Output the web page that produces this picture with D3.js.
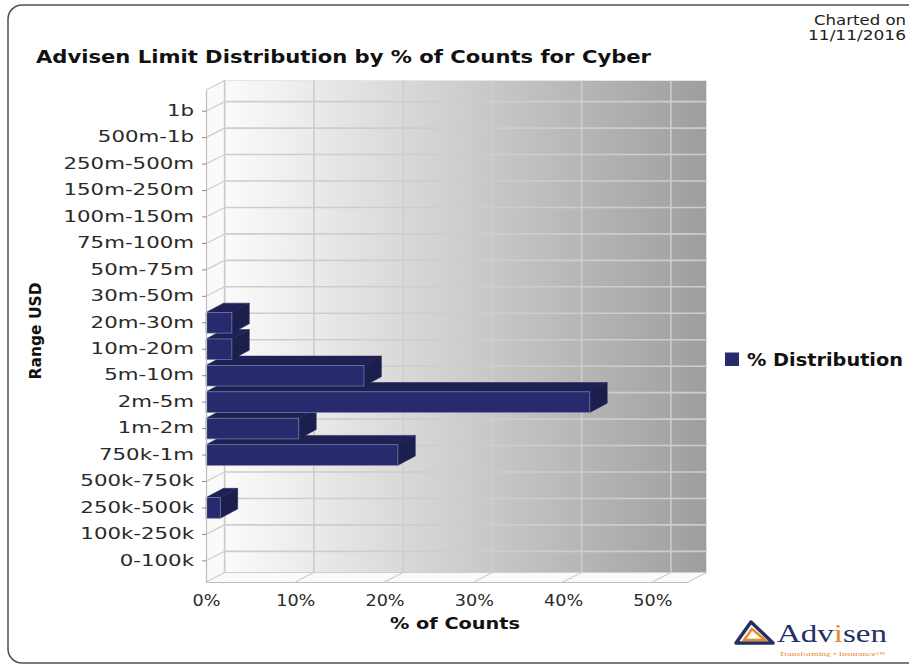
<!DOCTYPE html>
<html>
<head>
<meta charset="utf-8">
<script src="https://cdn.jsdelivr.net/npm/d3@7"></script>
<style>
  html, body { margin: 0; padding: 0; background: #ffffff; }
  svg { display: block; font-family: "DejaVu Sans", sans-serif; }
</style>
</head>
<body>
<div id="chart"></div>
<script>
// ---------------- DATA ----------------
const categories = ["0-100k","100k-250k","250k-500k","500k-750k","750k-1m","1m-2m","2m-5m","5m-10m","10m-20m","20m-30m","30m-50m","50m-75m","75m-100m","100m-150m","150m-250m","250m-500m","500m-1b","1b"];
const distribution = [0, 0, 1.6, 0, 21.5, 10.4, 43.0, 17.7, 2.9, 2.9, 0, 0, 0, 0, 0, 0, 0, 0];
const xTickValues = [0, 10, 20, 30, 40, 50];
const xDomainMax = 54;
const titleText = "Advisen Limit Distribution by % of Counts for Cyber";
const seriesName = "% Distribution";
const xTitle = "% of Counts";
const yTitle = "Range USD";
const chartedLines = ["Charted on", "11/11/2016"];

// ---------------- LAYOUT ----------------
const W = 909, H = 666;
const plot = { left: 206, right: 688, top: 90, bottom: 582 };
const wall = { dx: 18.6, dy: 9.5 };
const barDepth = { dx: 17.4, dy: 9.3 };
const colors = {
  front: "#272b6d", top: "#1f2155", side: "#1c1e4e", edge: "#7d80aa",
  grid: "#cdcdcd", axis: "#bdbdbd", text: "#2a2a2a"
};
const sans = "DejaVu Sans, sans-serif";
const serif = "Liberation Serif, serif";

const svg = d3.select("#chart").append("svg").attr("width", W).attr("height", H);

function fit(sel, w) { sel.attr("textLength", w).attr("lengthAdjust", "spacingAndGlyphs"); }
function stretch(sel, k) {
  sel.each(function () {
    const n = this.getComputedTextLength();
    d3.select(this).attr("textLength", n * k).attr("lengthAdjust", "spacingAndGlyphs");
  });
}

// Frame
svg.append("rect").attr("x", 8).attr("y", 5).attr("width", 940).attr("height", 658)
  .attr("rx", 14).attr("fill", "#fff").attr("stroke", "#505050").attr("stroke-width", 1.5);

// Scales
const x = d3.scaleLinear().domain([0, xDomainMax]).range([plot.left, plot.right]);
const y = d3.scaleBand().domain(categories).range([plot.bottom, plot.top]).paddingInner(0).paddingOuter(0.3);
const yc = c => y(c) + y.bandwidth() / 2;

// Back wall with gradient
const defs = svg.append("defs");
const grad = defs.append("linearGradient").attr("id", "bg").attr("x1", 0).attr("x2", 1).attr("y1", 0).attr("y2", 0);
grad.append("stop").attr("offset", 0).attr("stop-color", "#fbfbfb");
grad.append("stop").attr("offset", 1).attr("stop-color", "#9e9e9e");

const bx0 = plot.left + wall.dx, bx1 = plot.right + wall.dx;
const by0 = plot.top - wall.dy, by1 = plot.bottom - wall.dy;

// left wall & floor
svg.append("polygon").attr("points", [[plot.left, plot.top],[bx0, by0],[bx0, by1],[plot.left, plot.bottom]].join(" "))
  .attr("fill", "#fafafa");
svg.append("polygon").attr("points", [[plot.left, plot.bottom],[bx0, by1],[bx1, by1],[plot.right, plot.bottom]].join(" "))
  .attr("fill", "#fafafa");

svg.append("rect").attr("x", bx0).attr("y", by0).attr("width", bx1 - bx0).attr("height", by1 - by0)
  .attr("fill", "url(#bg)").attr("stroke", "#e6e6e6").attr("stroke-width", 1);

// gridlines
const g = svg.append("g");
g.selectAll("line.vg").data(xTickValues).join("line")
  .attr("x1", d => x(d) + wall.dx).attr("x2", d => x(d) + wall.dx)
  .attr("y1", by0).attr("y2", by1).attr("stroke", colors.grid).attr("stroke-width", 1.6);
g.selectAll("line.hg").data(categories).join("line")
  .attr("x1", bx0).attr("x2", bx1)
  .attr("y1", d => yc(d) - wall.dy).attr("y2", d => yc(d) - wall.dy)
  .attr("stroke", colors.grid).attr("stroke-width", 1.6);
g.selectAll("line.ld").data(categories).join("line")
  .attr("x1", plot.left).attr("y1", d => yc(d)).attr("x2", bx0).attr("y2", d => yc(d) - wall.dy)
  .attr("stroke", colors.grid).attr("stroke-width", 1.2);
g.selectAll("line.fd").data(xTickValues).join("line")
  .attr("x1", d => x(d)).attr("y1", plot.bottom).attr("x2", d => x(d) + wall.dx).attr("y2", by1)
  .attr("stroke", colors.grid).attr("stroke-width", 1.2);
const outline = [
  [[plot.left, plot.top],[bx0, by0]],
  [[plot.right, plot.bottom],[bx1, by1]],
  [[bx0, by0],[bx0, by1]],
  [[bx0, by1],[bx1, by1]]
];
g.selectAll("line.ol").data(outline).join("line")
  .attr("x1", d => d[0][0]).attr("y1", d => d[0][1]).attr("x2", d => d[1][0]).attr("y2", d => d[1][1])
  .attr("stroke", colors.grid).attr("stroke-width", 1.2);

// Bars (drawn from bottom category upward)
const barH = y.bandwidth() * 0.78;
const bars = categories.map((c, i) => ({ c, v: distribution[i] })).filter(d => d.v > 0);
const bg = svg.append("g");
bars.forEach(d => {
  const x0 = x(0), x1 = x(d.v);
  const yt = yc(d.c) - barH / 2, yb = yc(d.c) + barH / 2;
  const dx = barDepth.dx, dy = barDepth.dy;
  bg.append("polygon").attr("points", [[x0, yt],[x0 + dx, yt - dy],[x1 + dx, yt - dy],[x1, yt]].join(" "))
    .attr("fill", colors.top).attr("stroke", colors.top).attr("stroke-width", 0.5);
  bg.append("polygon").attr("points", [[x1, yt],[x1 + dx, yt - dy],[x1 + dx, yb - dy],[x1, yb]].join(" "))
    .attr("fill", colors.side).attr("stroke", colors.side).attr("stroke-width", 0.5);
  bg.append("rect").attr("x", x0).attr("y", yt).attr("width", x1 - x0).attr("height", barH)
    .attr("fill", colors.front).attr("stroke", colors.edge).attr("stroke-width", 0.7);
});

// Y axis
const yAxis = svg.append("g").attr("transform", `translate(${plot.left},0)`)
  .call(d3.axisLeft(y).tickSize(4).tickSizeOuter(0).tickPadding(8));
yAxis.select(".domain").attr("stroke", colors.axis).attr("stroke-width", 1.2);
yAxis.selectAll(".tick line").attr("stroke", "#888");
yAxis.selectAll(".tick text").attr("font-family", sans).attr("font-size", 15)
  .attr("fill", colors.text).call(stretch, 1.42);

// X axis
const xAxis = svg.append("g").attr("transform", `translate(0,${plot.bottom})`)
  .call(d3.axisBottom(x).tickValues(xTickValues).tickFormat(d => d + "%").tickSize(0).tickSizeOuter(0).tickPadding(13));
xAxis.select(".domain").attr("stroke", colors.axis).attr("stroke-width", 1.2);
xAxis.selectAll(".tick text").attr("font-family", sans).attr("font-size", 16)
  .attr("fill", colors.text).call(stretch, 1.1);

// Titles
svg.append("text").attr("x", 36).attr("y", 63).attr("font-size", 18).attr("font-weight", "bold")
  .attr("fill", "#111").text(titleText).call(fit, 615);

svg.selectAll("text.charted").data(chartedLines).join("text")
  .attr("x", 906).attr("y", (d, i) => 25 + i * 15).attr("text-anchor", "end")
  .attr("font-size", 14).attr("fill", "#222").text(d => d)
  .each(function (d, i) { d3.select(this).call(fit, i === 0 ? 92 : 98); });

svg.append("text").attr("x", 455).attr("y", 629).attr("text-anchor", "middle")
  .attr("font-size", 16).attr("font-weight", "bold").attr("fill", "#111").text(xTitle).call(fit, 130);

svg.append("text").attr("transform", "translate(41,331) rotate(-90)").attr("text-anchor", "middle")
  .attr("font-size", 16).attr("font-weight", "bold").attr("fill", "#111").text(yTitle).call(fit, 97);

// Legend
svg.append("rect").attr("x", 725).attr("y", 352.5).attr("width", 14).attr("height", 13.5).attr("fill", colors.front);
svg.append("text").attr("x", 747).attr("y", 366).attr("font-size", 17).attr("font-weight", "bold")
  .attr("fill", "#111").text(seriesName).call(fit, 156);

// Logo
const logo = svg.append("g");
logo.append("polygon").attr("points", "736,643 751,622 773,643").attr("fill", "none")
  .attr("stroke", "#223066").attr("stroke-width", 3.5).attr("stroke-linejoin", "round");
logo.append("polygon").attr("points", "744,640 752,629 765,640").attr("fill", "none")
  .attr("stroke", "#e8892b").attr("stroke-width", 2.5);
const at = logo.append("text").attr("x", 777).attr("y", 642).attr("font-family", serif)
  .attr("font-size", 25).attr("fill", "#223066");
at.append("tspan").text("Adv");
at.append("tspan").attr("fill", "#e8892b").text("i");
at.append("tspan").text("sen");
at.call(fit, 110);
logo.append("text").attr("x", 779).attr("y", 656).attr("font-size", 6.5).attr("fill", "#e8892b")
  .attr("font-family", serif).text("Transforming • Insurance™").call(fit, 106);
</script>
</body>
</html>
